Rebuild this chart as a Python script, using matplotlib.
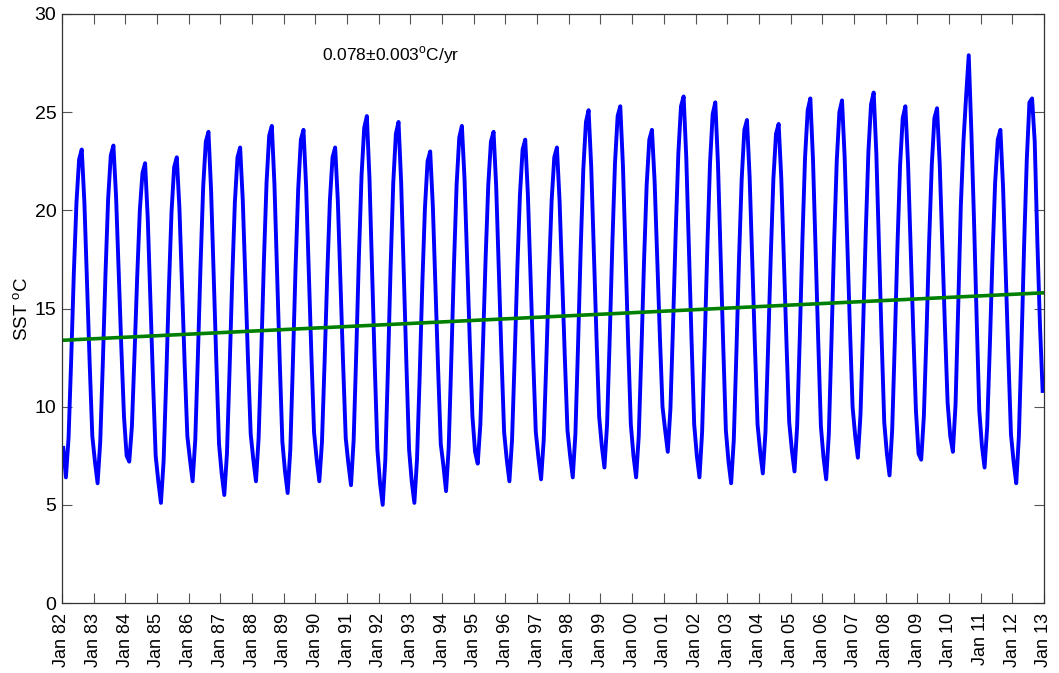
import numpy as np
import matplotlib
matplotlib.use('Agg')
import matplotlib.pyplot as plt

# monthly SST (degC), one row of 12 values per year, Jan..Dec
years = list(range(1982, 2013))
sst = [
    [7.9, 6.4, 8.4, 12.4, 16.8, 20.4, 22.6, 23.1, 20.4, 16.3, 12.2, 8.5],   # 1982
    [7.2, 6.1, 8.2, 12.3, 16.8, 20.6, 22.8, 23.3, 20.7, 16.9, 13.0, 9.5],   # 1983
    [7.5, 7.2, 9.0, 12.7, 16.6, 20.0, 21.9, 22.4, 19.6, 15.5, 11.3, 7.5],   # 1984
    [6.2, 5.1, 7.2, 11.4, 16.0, 19.9, 22.2, 22.7, 20.1, 16.1, 12.1, 8.5],   # 1985
    [7.3, 6.2, 8.3, 12.6, 17.2, 21.2, 23.5, 24.0, 21.0, 16.6, 12.2, 8.1],   # 1986
    [6.6, 5.5, 7.6, 11.9, 16.5, 20.4, 22.7, 23.2, 20.5, 16.4, 12.3, 8.6],   # 1987
    [7.3, 6.2, 8.4, 12.7, 17.4, 21.4, 23.8, 24.3, 21.3, 16.8, 12.3, 8.2],   # 1988
    [6.7, 5.6, 7.8, 12.3, 17.1, 21.1, 23.6, 24.1, 21.2, 16.9, 12.6, 8.7],   # 1989
    [7.3, 6.2, 8.2, 12.3, 16.7, 20.5, 22.7, 23.2, 20.5, 16.3, 12.2, 8.4],   # 1990
    [7.1, 6.0, 8.3, 12.8, 17.7, 21.8, 24.2, 24.8, 21.6, 16.9, 12.1, 7.8],   # 1991
    [6.1, 5.0, 7.3, 12.0, 17.1, 21.4, 23.9, 24.5, 21.4, 16.7, 12.1, 7.8],   # 1992
    [6.2, 5.1, 7.3, 11.5, 16.2, 20.1, 22.5, 23.0, 20.2, 16.1, 11.9, 8.1],   # 1993
    [7.0, 5.7, 7.9, 12.4, 17.2, 21.3, 23.7, 24.3, 21.6, 17.4, 13.3, 9.5],   # 1994
    [7.7, 7.1, 9.1, 13.2, 17.6, 21.3, 23.5, 24.0, 21.2, 16.9, 12.6, 8.7],   # 1995
    [7.3, 6.2, 8.3, 12.5, 17.0, 20.8, 23.1, 23.6, 20.8, 16.7, 12.5, 8.7],   # 1996
    [7.4, 6.3, 8.3, 12.4, 16.8, 20.5, 22.7, 23.2, 20.5, 16.5, 12.5, 8.8],   # 1997
    [7.5, 6.4, 8.6, 13.1, 18.0, 22.1, 24.5, 25.1, 22.2, 17.8, 13.5, 9.5],   # 1998
    [8.0, 6.9, 9.1, 13.5, 18.3, 22.4, 24.8, 25.3, 22.3, 17.7, 13.2, 9.1],   # 1999
    [7.5, 6.4, 8.5, 12.8, 17.4, 21.3, 23.6, 24.1, 21.5, 17.5, 13.6, 10.0],  # 2000
    [8.8, 7.7, 9.9, 14.2, 18.9, 22.9, 25.3, 25.8, 22.7, 18.0, 13.4, 9.1],   # 2001
    [7.5, 6.4, 8.7, 13.3, 18.2, 22.4, 24.9, 25.5, 22.4, 17.7, 13.1, 8.8],   # 2002
    [7.2, 6.1, 8.3, 12.8, 17.6, 21.6, 24.1, 24.6, 21.7, 17.4, 13.1, 9.1],   # 2003
    [7.7, 6.6, 8.7, 13.0, 17.6, 21.6, 23.9, 24.4, 21.6, 17.3, 13.1, 9.2],   # 2004
    [7.8, 6.7, 9.0, 13.5, 18.5, 22.7, 25.1, 25.7, 22.6, 17.9, 13.3, 9.0],   # 2005
    [7.4, 6.3, 8.6, 13.3, 18.3, 22.5, 25.0, 25.6, 22.7, 18.3, 14.0, 10.0],  # 2006
    [8.5, 7.4, 9.6, 14.1, 18.9, 23.0, 25.4, 26.0, 22.9, 18.2, 13.5, 9.2],   # 2007
    [7.6, 6.5, 8.8, 13.3, 18.2, 22.3, 24.7, 25.3, 22.4, 18.1, 13.8, 9.8],   # 2008
    [7.6, 7.3, 9.5, 13.7, 18.4, 22.3, 24.7, 25.2, 22.4, 18.2, 14.0, 10.2],  # 2009
    [8.5, 7.7, 10.1, 15.0, 20.2, 23.5, 25.8, 27.9, 24.0, 19.5, 14.5, 9.8],  # 2010
    [8.0, 6.9, 9.0, 13.1, 17.6, 21.4, 23.6, 24.1, 21.2, 16.9, 12.6, 8.6],   # 2011
    [7.2, 6.1, 8.5, 13.2, 18.3, 22.6, 25.5, 25.7, 23.5, 18.4, 14.1, 10.8],  # 2012
]

# linear trend (start/end of the green line)
trend_years = [1982, 2013]
trend_vals = [13.38, 15.80]
trend_text = '0.078\u00b10.003$^{\\mathrm{o}}$C/yr'

tick_years = list(range(1982, 2014))
tick_labels = ['Jan %02d' % (y % 100) for y in tick_years]

plt.rcParams['font.family'] = ['Liberation Sans', 'DejaVu Sans']
plt.rcParams['mathtext.fontset'] = 'custom'
plt.rcParams['mathtext.rm'] = 'Liberation Sans'

t = np.array([y + (m + 0.5) / 12 for y in years for m in range(12)])
v = np.array(sst).ravel()

fig = plt.figure(figsize=(10.59, 6.73), dpi=100)
ax = fig.add_axes([0.0585, 0.104, 0.9273, 0.8752])

ax.plot(t, v, color=(0, 0, 1), linewidth=2.8)
ax.plot(trend_years, trend_vals, color=(0, 0.5, 0), linewidth=2.6)

ax.set_xlim(1982, 2013)
ax.set_ylim(0, 30)
ax.set_xticks(tick_years)
ax.set_xticklabels(tick_labels, rotation=90, fontsize=13)
ax.set_yticks(range(0, 31, 5))
ax.tick_params(axis='y', labelsize=14, pad=4)
ax.tick_params(axis='x', pad=7)
ax.tick_params(direction='in', length=7, width=0.8, color='#555555',
               top=True, right=True)
for s in ax.spines.values():
    s.set_color('#333333')
    s.set_linewidth(0.9)

ax.set_ylabel('SST $^{\\mathrm{o}}$C', fontsize=13.5, labelpad=2)
ax.text(1990.2, 27.9, trend_text, fontsize=12.5, va='center', ha='left')

fig.savefig('out.png', dpi=100)
